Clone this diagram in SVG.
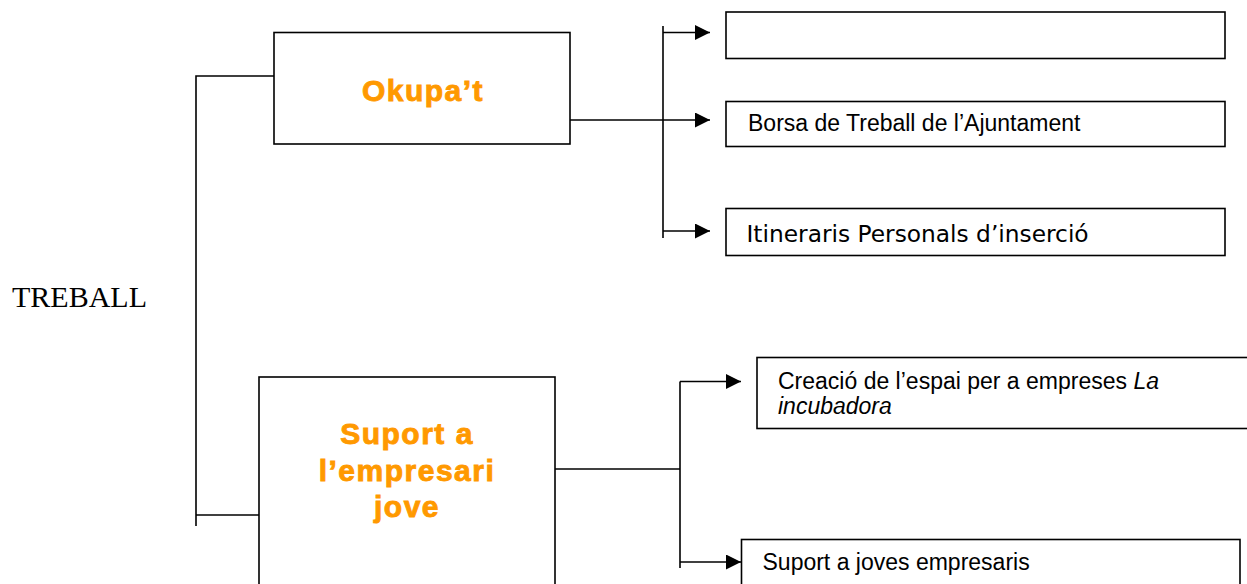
<svg xmlns="http://www.w3.org/2000/svg" width="1247" height="584" viewBox="0 0 1247 584">
<style>
.box{fill:#fff;stroke:#000;stroke-width:1.6}
.ln{fill:none;stroke:#000;stroke-width:1.6}
.arr{fill:none;stroke:#000;stroke-width:1.6;marker-end:url(#ah)}
.org{font-family:"Liberation Sans",Arial,sans-serif;font-weight:bold;font-size:30px;fill:#FF9900;stroke:#FF9900;stroke-width:0.9px;letter-spacing:1.5px;text-anchor:middle}
.lbl{font-family:"Liberation Sans",Arial,sans-serif;font-size:23px;fill:#000}
.vd{font-family:"DejaVu Sans",Verdana,sans-serif;font-size:23.3px;fill:#000}
.ser{font-family:"Liberation Serif","Times New Roman",serif;font-size:30px;fill:#000}
</style>
<defs>
<marker id="ah" markerUnits="userSpaceOnUse" markerWidth="16" markerHeight="16" refX="15" refY="7.5" orient="auto">
<path d="M0,0 L15,7.5 L0,15 Z" fill="#000"/>
</marker>
</defs>
<rect width="1247" height="584" fill="#fff"/>
<g id="connectors">
<path class="ln" d="M196,526 V76 H274"/>
<path class="ln" d="M196,515 H259"/>
<path class="ln" d="M570,120 H663"/>
<path class="ln" d="M663,26 V238"/>
<path class="arr" d="M663,32.5 H710"/>
<path class="arr" d="M663,120 H710"/>
<path class="arr" d="M663,231 H710"/>
<path class="ln" d="M555,469 H680"/>
<path class="ln" d="M680,381.5 V568"/>
<path class="arr" d="M680,381.5 H741"/>
<path class="arr" d="M680,562 H741"/>
</g>
<g id="treball">
<text class="ser" x="12" y="307">TREBALL</text>
</g>
<g id="okupat">
<rect class="box" x="274" y="32.5" width="296" height="111.5"/>
<text class="org" x="423" y="100.5">Okupa’t</text>
</g>
<g id="suport-empresari">
<rect class="box" x="259" y="377" width="296" height="230"/>
<text class="org" x="407" y="443.5">Suport a</text>
<text class="org" x="407" y="480.5">l’empresari</text>
<text class="org" x="407" y="516.5">jove</text>
</g>
<g id="empty-box">
<rect class="box" x="726" y="12" width="499" height="46.5"/>
</g>
<g id="borsa">
<rect class="box" x="726" y="101.5" width="499" height="45"/>
<text class="lbl" x="748" y="130.5">Borsa de Treball de l’Ajuntament</text>
</g>
<g id="itineraris">
<rect class="box" x="726" y="208.5" width="499" height="47"/>
<text class="vd" x="746.5" y="242">Itineraris Personals d’inserció</text>
</g>
<g id="incubadora">
<rect class="box" x="757" y="357.5" width="520" height="71"/>
<text class="lbl" x="778" y="389">Creació de l’espai per a empreses <tspan font-style="italic">La</tspan></text>
<text class="lbl" x="778" y="414" font-style="italic">incubadora</text>
</g>
<g id="joves">
<rect class="box" x="741.5" y="539.5" width="498.5" height="70"/>
<text class="lbl" x="762.5" y="570">Suport a joves empresaris</text>
</g>
</svg>
